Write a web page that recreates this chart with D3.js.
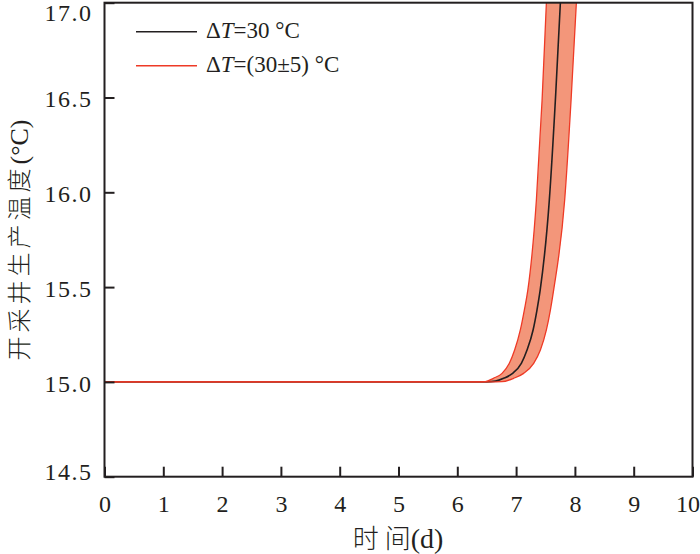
<!DOCTYPE html>
<html>
<head>
<meta charset="utf-8">
<script src="https://cdn.jsdelivr.net/npm/d3@7"></script>
<style>
  html, body { margin: 0; padding: 0; background: #fff; }
  svg { display: block; }
</style>
</head>
<body>
<svg id="chart" width="700" height="554"></svg>
<script>
// ---- data ----
const xTicks = [0, 1, 2, 3, 4, 5, 6, 7, 8, 9, 10];
const yTicks = [14.5, 15.0, 15.5, 16.0, 16.5, 17.0];

// ΔT = 30 °C (black centre curve)
const centerTime = [0, 5.0, 6.2, 6.5, 6.65, 6.788, 6.941, 7.089, 7.186, 7.289, 7.355, 7.41, 7.565, 7.668, 7.753, 7.83];
const centerTemp = [15.0, 15.0, 15.0, 15.0, 15.004, 15.019, 15.045, 15.098, 15.168, 15.274, 15.379, 15.485, 15.959, 16.487, 17.0, 17.6];

// ΔT = 35 °C edge (left / faster)
const upperTime = [0, 5.0, 6.0, 6.3, 6.477, 6.613, 6.761, 6.885, 6.975, 7.072, 7.14, 7.20, 7.345, 7.442, 7.515, 7.60];
const upperTemp = [15.0, 15.0, 15.0, 15.0, 15.001, 15.019, 15.045, 15.098, 15.168, 15.274, 15.379, 15.485, 15.959, 16.487, 17.0, 17.6];

// ΔT = 25 °C edge (right / slower)
const lowerTime = [0, 5.0, 6.2, 6.55, 6.761, 6.958, 7.128, 7.299, 7.413, 7.515, 7.583, 7.639, 7.826, 7.935, 8.025, 8.11];
const lowerTemp = [15.0, 15.0, 15.0, 15.0, 15.001, 15.019, 15.045, 15.098, 15.168, 15.274, 15.379, 15.485, 15.959, 16.487, 17.0, 17.6];

const legendLabels = ["=30 °C", "=(30±5) °C"];

// ---- layout ----
const svg = d3.select("#chart");
const L = 104.5, R = 692.5, T = 2.7, B = 476.7;
const x = d3.scaleLinear().domain([0, 10]).range([L, R]);
const y = d3.scaleLinear().domain([14.5, 17.0]).range([B, T]);

const axisColor = "#231f20";
const serif = "'Liberation Serif', 'Times New Roman', 'DejaVu Serif', serif";
const cjk = "'Noto Sans CJK SC', sans-serif";

const zip = (ts, vs) => ts.map((t, i) => [t, vs[i]]);
const centerPts = zip(centerTime, centerTemp);
const upperPts = zip(upperTime, upperTemp);
const lowerPts = zip(lowerTime, lowerTemp);

svg.append("defs").append("clipPath").attr("id", "plotclip")
  .append("rect").attr("x", L).attr("y", T).attr("width", R - L).attr("height", B - T);

const line = d3.line()
  .x(d => x(d[0])).y(d => y(d[1]))
  .curve(d3.curveMonotoneX);

const g = svg.append("g").attr("clip-path", "url(#plotclip)");

// band fill: upper edge forward, then lower edge backward
const upPath = line(upperPts);
const lowRevPath = line(lowerPts.slice().reverse()).replace(/^M/, "L");
g.append("path")
  .attr("d", upPath + lowRevPath + "Z")
  .attr("fill", "#f3967a")
  .attr("stroke", "none");

// centre line
g.append("path")
  .attr("d", line(centerPts))
  .attr("fill", "none")
  .attr("stroke", "#231f20")
  .attr("stroke-width", 1.6);

// band edges
[upperPts, lowerPts].forEach(pts => {
  g.append("path")
    .attr("d", line(pts))
    .attr("fill", "none")
    .attr("stroke", "#ee3a26")
    .attr("stroke-width", 1.3);
});

// ---- axes ----
const xAxis = d3.axisBottom(x).tickValues(xTicks).tickSizeInner(-10).tickSizeOuter(0).tickPadding(0)
  .tickFormat(d3.format("d"));
const gx = svg.append("g").attr("transform", `translate(0,${B})`).call(xAxis);
gx.attr("font-family", null);
gx.select(".domain").remove();
gx.selectAll(".tick line").attr("stroke", axisColor).attr("stroke-width", 2);
gx.selectAll(".tick text")
  .style("font-family", serif).attr("font-size", 24).attr("fill", "#231f20")
  .attr("dy", null).attr("y", 35)
  .attr("dx", d => d === 10 ? -5 : 0);

const yAxis = d3.axisLeft(y).tickValues(yTicks).tickSizeInner(-10).tickSizeOuter(0).tickPadding(0)
  .tickFormat(d3.format(".1f"));
const gy = svg.append("g").attr("transform", `translate(${L},0)`).call(yAxis);
gy.attr("font-family", null);
gy.select(".domain").remove();
gy.selectAll(".tick line").attr("stroke", axisColor).attr("stroke-width", 2);
gy.selectAll(".tick text")
  .style("font-family", serif).attr("font-size", 24).attr("fill", "#231f20")
  .attr("letter-spacing", 1.5)
  .attr("x", -12)
  .attr("dy", "0.34em")
  .attr("y", d => d === 17.0 ? 9.5 : (d === 14.5 ? -5.5 : 1));

// frame
svg.append("rect")
  .attr("x", L).attr("y", T).attr("width", R - L).attr("height", B - T)
  .attr("fill", "none").attr("stroke", axisColor).attr("stroke-width", 2);

// ---- axis titles ----
const xt = svg.append("text")
  .attr("x", 398).attr("y", 548).attr("text-anchor", "middle")
  .attr("fill", "#231f20").attr("font-size", 26);
xt.append("tspan").style("font-family", cjk).attr("font-weight", 300).text("时");
xt.append("tspan").style("font-family", cjk).attr("font-weight", 300).attr("dx", 6).text("间");
xt.append("tspan").style("font-family", serif).attr("font-size", 28).text("(d)");

const yt = svg.append("text")
  .attr("transform", "translate(28,240) rotate(-90)")
  .attr("text-anchor", "middle")
  .attr("fill", "#231f20").attr("font-size", 24);
yt.append("tspan").style("font-family", cjk).attr("font-weight", 300).attr("letter-spacing", 4).text("开采井生产温度");
yt.append("tspan").style("font-family", serif).attr("font-size", 26).text("(°C)");

// ---- legend ----
const legendColors = ["#231f20", "#ee3a26"];
const legendY = [31.7, 65.7];
legendLabels.forEach((lab, i) => {
  svg.append("line")
    .attr("x1", 136).attr("x2", 197)
    .attr("y1", legendY[i]).attr("y2", legendY[i])
    .attr("stroke", legendColors[i]).attr("stroke-width", 1.6);
  const t = svg.append("text")
    .attr("x", 206).attr("y", legendY[i] + 6)
    .style("font-family", serif).attr("font-size", 23).attr("fill", "#231f20");
  t.append("tspan").text("Δ");
  t.append("tspan").attr("font-style", "italic").text("T");
  t.append("tspan").text(lab);
});
</script>
</body>
</html>
